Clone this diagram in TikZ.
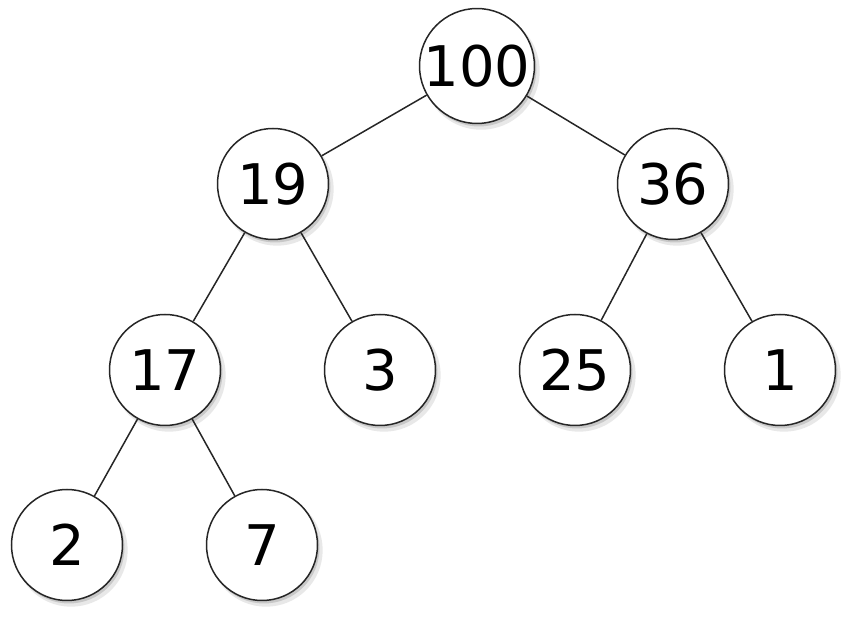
\documentclass[tikz,border=0pt]{standalone}
\usepackage{fontspec}
\setmainfont{DejaVu Sans}
\usetikzlibrary{shadows}
\begin{document}
\begin{tikzpicture}[x=1pt,y=1pt,
  hnode/.style={circle, draw=black!85, line width=1.5pt, fill=white, minimum size=111pt, inner sep=0pt,
    font=\fontsize{56}{56}\selectfont,
    drop shadow={shadow xshift=4pt, shadow yshift=-5pt, opacity=0.15, fill=black!60, shadow scale=1.02},
    drop shadow={shadow xshift=2pt, shadow yshift=-3pt, opacity=0.25, fill=black!60}},
  edge/.style={draw=black!85, line width=1.5pt}]
\useasboundingbox (0,0) rectangle (854,618);
\node[hnode] (n100) at (477,552) {100};
\node[hnode] (n19) at (273,434) {19};
\node[hnode] (n36) at (673,434) {36};
\node[hnode] (n17) at (165,248) {17};
\node[hnode] (n3) at (380,248) {3};
\node[hnode] (n25) at (575,248) {25};
\node[hnode] (n1) at (780,248) {1};
\node[hnode] (n2) at (67,73) {2};
\node[hnode] (n7) at (262,73) {7};
\draw[edge] (n100) -- (n19);
\draw[edge] (n100) -- (n36);
\draw[edge] (n19) -- (n17);
\draw[edge] (n19) -- (n3);
\draw[edge] (n36) -- (n25);
\draw[edge] (n36) -- (n1);
\draw[edge] (n17) -- (n2);
\draw[edge] (n17) -- (n7);
\end{tikzpicture}
\end{document}
